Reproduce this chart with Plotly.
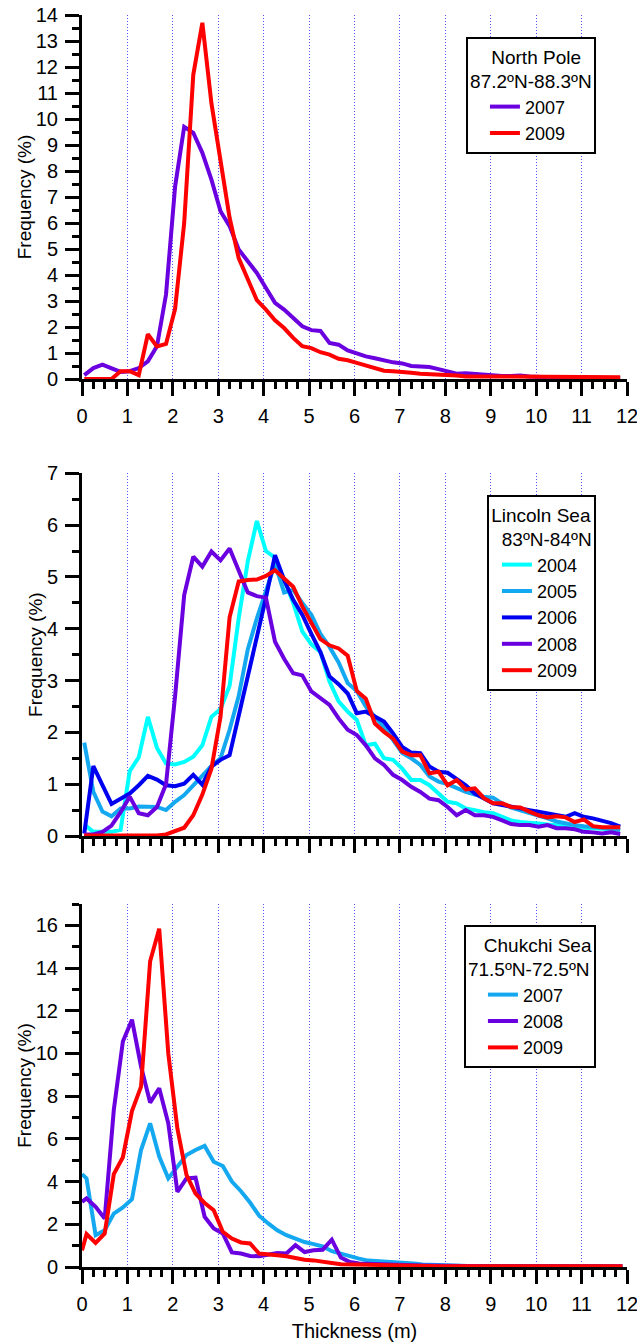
import plotly.graph_objects as go

# ---------------- data ----------------
# bin centres (m) for North Pole and Lincoln Sea panels
thick_a = [0.05, 0.25, 0.45, 0.65, 0.85, 1.05, 1.25, 1.45, 1.65, 1.85,
           2.05, 2.25, 2.45, 2.65, 2.85, 3.05, 3.25, 3.45, 3.65, 3.85,
           4.05, 4.25, 4.45, 4.65, 4.85, 5.05, 5.25, 5.45, 5.65, 5.85,
           6.05, 6.25, 6.45, 6.65, 6.85, 7.05, 7.25, 7.45, 7.65, 7.85,
           8.05, 8.25, 8.45, 8.65, 8.85, 9.05, 9.25, 9.45, 9.65, 9.85,
           10.05, 10.25, 10.45, 10.65, 10.85, 11.05, 11.25, 11.45, 11.65, 11.85]
# bin centres (m) for Chukchi Sea panel
thick_c = [0.0,
           0.1, 0.3, 0.5, 0.7, 0.9, 1.1, 1.3, 1.5, 1.7, 1.9,
           2.1, 2.3, 2.5, 2.7, 2.9, 3.1, 3.3, 3.5, 3.7, 3.9,
           4.1, 4.3, 4.5, 4.7, 4.9, 5.1, 5.3, 5.5, 5.7, 5.9,
           6.1, 6.3, 6.5, 6.7, 6.9, 7.1, 7.3, 7.5, 7.7, 7.9,
           8.1, 8.3, 8.5, 8.7, 8.9, 9.1, 9.3, 9.5, 9.7, 9.9,
           10.1, 10.3, 10.5, 10.7, 10.9, 11.1, 11.3, 11.5, 11.7, 11.9]

# North Pole 87.2N-88.3N
np_2007 = [0.15, 0.42, 0.55, 0.40, 0.27, 0.30, 0.42, 0.68, 1.26, 3.25,
           7.40, 9.70, 9.47, 8.70, 7.67, 6.45, 5.88, 4.98, 4.53, 4.08,
           3.50, 2.93, 2.67, 2.35, 2.03, 1.88, 1.85, 1.39, 1.32, 1.10,
           0.98, 0.87, 0.80, 0.70, 0.64, 0.60, 0.50, 0.48, 0.46, 0.38,
           0.30, 0.20, 0.22, 0.19, 0.15, 0.13, 0.12, 0.12, 0.13, 0.10,
           0.07, 0.07, 0.06, 0.07, 0.05, 0.05, 0.05, 0.04, 0.04, 0.04]
np_2009 = [0.00, 0.00, 0.00, 0.00, 0.30, 0.30, 0.15, 1.72, 1.25, 1.35,
           2.70, 6.00, 11.70, 13.70, 10.60, 8.50, 6.20, 4.65, 3.80, 3.03,
           2.67, 2.26, 1.96, 1.58, 1.26, 1.19, 1.03, 0.94, 0.78, 0.72,
           0.62, 0.52, 0.40, 0.32, 0.30, 0.28, 0.24, 0.20, 0.19, 0.18,
           0.17, 0.13, 0.10, 0.10, 0.09, 0.08, 0.08, 0.08, 0.08, 0.08,
           0.07, 0.07, 0.07, 0.07, 0.07, 0.07, 0.07, 0.07, 0.07, 0.07]

# Lincoln Sea 83N-84N
ls_2004 = [0.22, 0.08, 0.08, 0.08, 0.12, 1.25, 1.52, 2.30, 1.70, 1.40,
           1.38, 1.43, 1.53, 1.75, 2.30, 2.45, 2.90, 4.20, 5.30, 6.08,
           5.50, 5.37, 4.95, 4.50, 3.95, 3.70, 3.55, 2.98, 2.60, 2.40,
           2.24, 1.75, 1.78, 1.50, 1.47, 1.30, 1.08, 1.08, 0.98, 0.82,
           0.66, 0.63, 0.53, 0.50, 0.46, 0.44, 0.36, 0.30, 0.27, 0.26,
           0.24, 0.22, 0.21, 0.20, 0.18, 0.16, 0.15, 0.14, 0.13, 0.12]
ls_2005 = [1.80, 0.85, 0.47, 0.38, 0.53, 0.53, 0.57, 0.57, 0.56, 0.50,
           0.66, 0.79, 0.97, 1.15, 1.35, 1.50, 2.05, 2.70, 3.60, 4.20,
           4.70, 5.25, 4.70, 4.75, 4.50, 4.27, 3.90, 3.65, 3.35, 2.95,
           2.80, 2.50, 2.30, 2.10, 1.85, 1.60, 1.50, 1.37, 1.15, 1.05,
           1.00, 0.92, 0.85, 0.80, 0.76, 0.74, 0.63, 0.55, 0.50, 0.44,
           0.40, 0.34, 0.28, 0.24, 0.21, 0.19, 0.18, 0.16, 0.14, 0.12]
ls_2006 = [0.05, 1.35, 0.98, 0.62, 0.72, 0.82, 0.98, 1.16, 1.09, 0.98,
           0.96, 1.01, 1.18, 0.99, 1.34, 1.47, 1.56, 2.30, 3.05, 3.80,
           4.60, 5.42, 4.94, 4.56, 4.27, 3.90, 3.55, 3.08, 2.93, 2.75,
           2.37, 2.40, 2.30, 2.21, 1.98, 1.72, 1.61, 1.60, 1.34, 1.24,
           1.22, 1.11, 0.98, 0.82, 0.73, 0.63, 0.60, 0.56, 0.53, 0.50,
           0.47, 0.44, 0.40, 0.37, 0.44, 0.37, 0.34, 0.30, 0.25, 0.18]
ls_2008 = [0.03, 0.03, 0.08, 0.20, 0.46, 0.76, 0.44, 0.40, 0.56, 1.00,
           2.70, 4.65, 5.39, 5.20, 5.49, 5.32, 5.55, 5.12, 4.70, 4.63,
           4.60, 3.75, 3.42, 3.14, 3.10, 2.79, 2.66, 2.53, 2.27, 2.05,
           1.95, 1.75, 1.50, 1.37, 1.18, 1.08, 0.95, 0.85, 0.72, 0.69,
           0.56, 0.40, 0.50, 0.40, 0.40, 0.37, 0.30, 0.23, 0.21, 0.21,
           0.18, 0.21, 0.15, 0.15, 0.13, 0.08, 0.07, 0.05, 0.07, 0.04]
ls_2009 = [0.01, 0.01, 0.01, 0.01, 0.01, 0.01, 0.01, 0.01, 0.01, 0.03,
           0.10, 0.16, 0.40, 0.80, 1.30, 2.30, 4.22, 4.91, 4.94, 4.95,
           5.02, 5.13, 4.97, 4.81, 4.43, 4.10, 3.80, 3.68, 3.62, 3.48,
           2.80, 2.65, 2.17, 2.01, 1.88, 1.63, 1.56, 1.56, 1.21, 1.24,
           0.98, 1.08, 0.90, 0.92, 0.73, 0.63, 0.63, 0.56, 0.55, 0.47,
           0.40, 0.36, 0.38, 0.36, 0.27, 0.32, 0.19, 0.17, 0.17, 0.17]

# Chukchi Sea 71.5N-72.5N
cs_2007 = [4.35,
           4.15, 1.49, 1.72, 2.50, 2.79, 3.17, 5.48, 6.73, 5.17, 4.15,
           4.69, 5.24, 5.48, 5.67, 4.93, 4.73, 4.00, 3.55, 3.02, 2.40,
           2.04, 1.72, 1.49, 1.33, 1.17, 1.07, 0.96, 0.74, 0.62, 0.47,
           0.39, 0.30, 0.28, 0.25, 0.21, 0.19, 0.16, 0.12, 0.10, 0.08,
           0.07, 0.06, 0.05, 0.05, 0.05, 0.04, 0.04, 0.04, 0.04, 0.04,
           0.03, 0.03, 0.03, 0.03, 0.03, 0.03, 0.03, 0.03, 0.03, 0.03]
cs_2008 = [3.05,
           3.21, 2.82, 2.27, 7.35, 10.56, 11.58, 9.39, 7.70, 8.37, 6.73,
           3.52, 4.15, 4.18, 2.35, 1.80, 1.57, 0.68, 0.63, 0.52, 0.50,
           0.58, 0.66, 0.63, 1.02, 0.70, 0.78, 0.81, 1.28, 0.44, 0.23,
           0.16, 0.14, 0.15, 0.12, 0.10, 0.09, 0.08, 0.07, 0.06, 0.05,
           0.05, 0.04, 0.04, 0.04, 0.04, 0.04, 0.04, 0.04, 0.03, 0.03,
           0.03, 0.03, 0.03, 0.03, 0.03, 0.03, 0.03, 0.03, 0.03, 0.03]
cs_2009 = [0.78,
           1.54, 1.13, 1.57, 4.35, 5.14, 7.30, 8.45, 14.32, 15.84, 10.00,
           6.49, 4.31, 3.44, 3.00, 2.66, 1.65, 1.33, 1.15, 1.10, 0.63,
           0.57, 0.55, 0.50, 0.40, 0.34, 0.31, 0.27, 0.19, 0.13, 0.12,
           0.09, 0.08, 0.07, 0.06, 0.06, 0.05, 0.05, 0.04, 0.04, 0.04,
           0.04, 0.04, 0.04, 0.03, 0.03, 0.03, 0.03, 0.03, 0.03, 0.03,
           0.03, 0.03, 0.03, 0.03, 0.03, 0.03, 0.03, 0.03, 0.03, 0.03]

x_ticks = [0, 1, 2, 3, 4, 5, 6, 7, 8, 9, 10, 11, 12]

# ---------------- style ----------------
FONT = "Liberation Sans, Arial, Helvetica, sans-serif"
C_CYAN = "#00FFFF"
C_SKY = "#14A8F0"
C_BLUE = "#0000F0"
C_PURPLE = "#6A00E0"
C_RED = "#FF0000"
LW = 4
TICK_FS = 20

fig = go.Figure()

def add(x, y, name, color, xa, ya, leg):
    fig.add_trace(go.Scatter(x=x, y=y, mode="lines", name=name,
                             line=dict(color=color, width=LW),
                             xaxis=xa, yaxis=ya, legend=leg,
                             hoverinfo="skip"))

add(thick_a, np_2007, "2007", C_PURPLE, "x", "y", "legend")
add(thick_a, np_2009, "2009", C_RED, "x", "y", "legend")

add(thick_a, ls_2004, "2004", C_CYAN, "x2", "y2", "legend2")
add(thick_a, ls_2005, "2005", C_SKY, "x2", "y2", "legend2")
add(thick_a, ls_2006, "2006", C_BLUE, "x2", "y2", "legend2")
add(thick_a, ls_2008, "2008", C_PURPLE, "x2", "y2", "legend2")
add(thick_a, ls_2009, "2009", C_RED, "x2", "y2", "legend2")

add(thick_c, cs_2007, "2007", C_SKY, "x3", "y3", "legend3")
add(thick_c, cs_2008, "2008", C_PURPLE, "x3", "y3", "legend3")
add(thick_c, cs_2009, "2009", C_RED, "x3", "y3", "legend3")

M_T, M_B, M_L, M_R = 15, 77, 82, 10
H = 1344 - M_T - M_B

def frac(px):
    return (H - (px - M_T)) / H

def xaxis(anchor, labels, title=None):
    d = dict(range=[0, 12], tickvals=x_ticks, ticktext=[str(t) for t in x_ticks],
             showline=True, linecolor="black", linewidth=3,
             ticks="outside", ticklen=14, tickwidth=3, tickcolor="black",
             minor=dict(dtick=0.25, tick0=0, ticks="outside", ticklen=7,
                        tickwidth=2.5, tickcolor="black", showgrid=False),
             showgrid=True, gridcolor="#5050FF", gridwidth=1, griddash="1px,2px",
             zeroline=False, showticklabels=labels, anchor=anchor,
             ticklabeloverflow="allow", ticklabelstandoff=3,
             tickfont=dict(size=TICK_FS, color="black", family=FONT),
             automargin=False, fixedrange=True)
    if title:
        d["title"] = dict(text=title, font=dict(size=20, color="black", family=FONT),
                          standoff=10)
    return d

def yaxis(anchor, rng, dtick, mdtick, dom):
    return dict(range=rng, dtick=dtick, tick0=0, domain=dom,
                showline=True, linecolor="black", linewidth=3,
                ticks="outside", ticklen=14, tickwidth=3, tickcolor="black",
                minor=dict(dtick=mdtick, tick0=0, ticks="outside", ticklen=7,
                           tickwidth=2.5, tickcolor="black", showgrid=False),
                showgrid=False, zeroline=False, anchor=anchor,
                ticklabeloverflow="allow", ticklabelstandoff=3,
                tickfont=dict(size=TICK_FS, color="black", family=FONT),
                title=dict(text="Frequency (%)",
                           font=dict(size=19, color="black", family=FONT),
                           standoff=0),
                automargin=False, fixedrange=True)

def legend(title, top_px, indent, xr=0.943):
    return dict(x=xr, xanchor="right", y=frac(top_px), yanchor="top",
                bgcolor="white", bordercolor="black", borderwidth=2,
                font=dict(size=18, color="black", family=FONT),
                title=dict(text=title, side="top center",
                           font=dict(size=19, color="black", family=FONT)),
                indentation=indent,
                tracegroupgap=0, itemclick=False, itemdoubleclick=False)

fig.update_layout(
    width=637, height=1344,
    margin=dict(t=M_T, b=M_B, l=M_L, r=M_R),
    paper_bgcolor="white", plot_bgcolor="white",
    font=dict(family=FONT, color="black"),
    showlegend=True,
    xaxis=xaxis("y", True),
    yaxis=yaxis("x", [0, 14], 1, 0.5, [frac(379), 1.0]),
    xaxis2=xaxis("y2", False),
    yaxis2=yaxis("x2", [0, 7], 1, 0.5, [frac(836), frac(473.3)]),
    xaxis3=xaxis("y3", True, "Thickness (m)"),
    yaxis3=yaxis("x3", [0, 17], 2, 1, [0.0, frac(904)]),
    legend=legend("\u00a0\u00a0\u00a0\u00a0North Pole<br>87.2ºN-88.3ºN", 37, 17),
    legend2=legend("Lincoln Sea<br>\u00a0\u00a083ºN-84ºN", 495, 8),
    legend3=legend("\u00a0\u00a0\u00a0Chukchi Sea<br>71.5ºN-72.5ºN", 925, 17),
)

fig.write_html(
    "out.html",
    config={"displayModeBar": False},
    post_script="document.body.style.margin='0';document.body.style.overflow='hidden';",
)
